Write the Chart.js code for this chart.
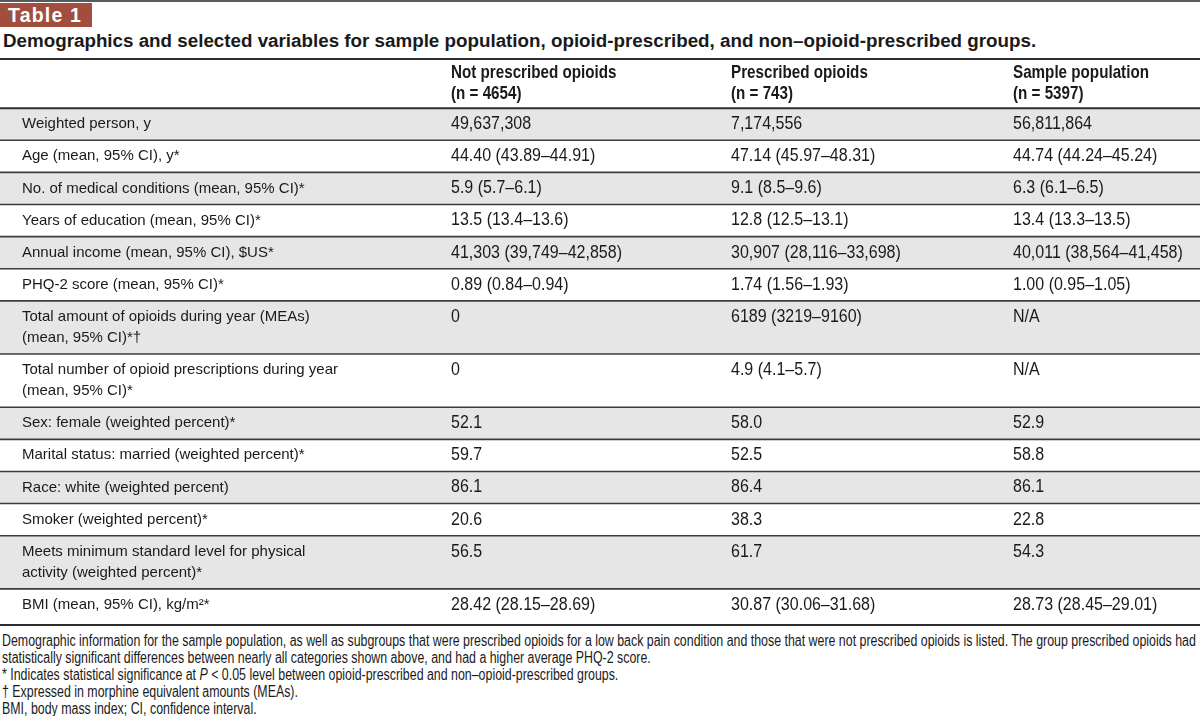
<!DOCTYPE html>
<html>
<head>
<meta charset="utf-8">
<script src="https://cdn.jsdelivr.net/npm/chart.js@4.4.1/dist/chart.umd.min.js"></script>
<style>
  body { margin: 0; background: #fff; }
  #page { position: relative; width: 1200px; height: 716px; overflow: hidden; font-family: "Liberation Sans", Arial, sans-serif; color: #1a1a1a; }
  #topRule { position: absolute; left: 0; top: 0; width: 1200px; height: 2px; background: #5a5a5a; }
  #tag { position: absolute; left: 0; top: 3px; width: 92px; height: 24px; background: #a24e3e; color: #fff;
         font-weight: bold; font-size: 19.5px; letter-spacing: 1.2px; line-height: 25px; padding-left: 8px; box-sizing: border-box; }
  #caption { position: absolute; left: 3px; top: 30px; font-weight: bold; font-size: 18.8px; white-space: nowrap; }
  #tableCanvas { position: absolute; left: 0; top: 57px; }
  #notes { position: absolute; left: 2px; top: 632px; font-size: 16px; line-height: 17px; white-space: nowrap; }
  #notes div { transform-origin: 0 50%; }
</style>
</head>
<body>
<div id="page">
  <div id="topRule"></div>
  <div id="tag">Table 1</div>
  <div id="caption">Demographics and selected variables for sample population, opioid-prescribed, and non–opioid-prescribed groups.</div>
  <canvas id="tableCanvas" width="1200" height="570"></canvas>
  <div id="notes"></div>
</div>

<script>
// ===== DATA =====
const columnHeads = [
  "Not prescribed opioids\n(n = 4654)",
  "Prescribed opioids\n(n = 743)",
  "Sample population\n(n = 5397)"
];

const rowLabels = [
  "Weighted person, y",
  "Age (mean, 95% CI), y*",
  "No. of medical conditions (mean, 95% CI)*",
  "Years of education (mean, 95% CI)*",
  "Annual income (mean, 95% CI), $US*",
  "PHQ-2 score (mean, 95% CI)*",
  "Total amount of opioids during year (MEAs)\n(mean, 95% CI)*†",
  "Total number of opioid prescriptions during year\n(mean, 95% CI)*",
  "Sex: female (weighted percent)*",
  "Marital status: married (weighted percent)*",
  "Race: white (weighted percent)",
  "Smoker (weighted percent)*",
  "Meets minimum standard level for physical\nactivity (weighted percent)*",
  "BMI (mean, 95% CI), kg/m²*"
];

const notPrescribed = [
  "49,637,308", "44.40 (43.89–44.91)", "5.9 (5.7–6.1)", "13.5 (13.4–13.6)",
  "41,303 (39,749–42,858)", "0.89 (0.84–0.94)", "0", "0",
  "52.1", "59.7", "86.1", "20.6", "56.5", "28.42 (28.15–28.69)"
];

const prescribed = [
  "7,174,556", "47.14 (45.97–48.31)", "9.1 (8.5–9.6)", "12.8 (12.5–13.1)",
  "30,907 (28,116–33,698)", "1.74 (1.56–1.93)", "6189 (3219–9160)", "4.9 (4.1–5.7)",
  "58.0", "52.5", "86.4", "38.3", "61.7", "30.87 (30.06–31.68)"
];

const samplePopulation = [
  "56,811,864", "44.74 (44.24–45.24)", "6.3 (6.1–6.5)", "13.4 (13.3–13.5)",
  "40,011 (38,564–41,458)", "1.00 (0.95–1.05)", "N/A", "N/A",
  "52.9", "58.8", "86.1", "22.8", "54.3", "28.73 (28.45–29.01)"
];

const footnotes = [
  "Demographic information for the sample population, as well as subgroups that were prescribed opioids for a low back pain condition and those that were not prescribed opioids is listed. The group prescribed opioids had",
  "statistically significant differences between nearly all categories shown above, and had a higher average PHQ-2 score.",
  "* Indicates statistical significance at <i>P</i> &lt; 0.05 level between opioid-prescribed and non–opioid-prescribed groups.",
  "† Expressed in morphine equivalent amounts (MEAs).",
  "BMI, body mass index; CI, confidence interval."
];

// ===== LAYOUT =====
const FONT = '"Liberation Sans", Arial, sans-serif';
const COL_X = [22, 451, 731, 1013];
const HEAD_H = 49, PAD = 11, LINE = 21, SUP_EXTRA = 4;
const GRAY = "#e6e6e6", RULE = "#3c3c3c", INK = "#1a1a1a";

const valueCols = [notPrescribed, prescribed, samplePopulation];

// row heights come from the number of text lines in each label
const rowHeights = rowLabels.map(l => PAD + LINE * l.split("\n").length + (l.includes("²") ? SUP_EXTRA : 0));
const heights = [HEAD_H].concat(rowHeights);
const total = heights.reduce((a, b) => a + b, 0);

const datasets = heights.map((h, i) => ({
  label: i === 0 ? "header" : rowLabels[i - 1],
  data: [h],
  backgroundColor: i === 0 ? "#ffffff" : (i % 2 === 1 ? GRAY : "#ffffff"),
  borderWidth: 0,
  borderSkipped: false,
  barPercentage: 1,
  categoryPercentage: 1,
  stack: "table"
}));

function squeezed(ctx, str, x, y, font, sx) {
  ctx.save();
  ctx.font = font;
  ctx.translate(x, y);
  ctx.scale(sx, 1);
  ctx.fillText(str, 0, 0);
  ctx.restore();
}

const tablePlugin = {
  id: "tableText",
  afterDatasetsDraw(chart) {
    const ctx = chart.ctx;
    const ys = chart.scales.y;
    const xs = chart.scales.xt;
    const x0 = chart.chartArea.left, x1 = chart.chartArea.right;

    // rules between rows
    let cum = 0;
    const bounds = [0];
    heights.forEach(h => { cum += h; bounds.push(cum); });
    bounds.forEach((b, i) => {
      const py = ys.getPixelForValue(b);
      const heavy = i === 0 || i === 1 || i === bounds.length - 1;
      ctx.save();
      ctx.strokeStyle = heavy ? "#2e2e2e" : RULE;
      ctx.lineWidth = heavy ? 2 : 1.6;
      ctx.beginPath();
      ctx.moveTo(x0, py);
      ctx.lineTo(x1, py);
      ctx.stroke();
      ctx.restore();
    });

    ctx.save();
    ctx.fillStyle = INK;
    ctx.textBaseline = "middle";
    ctx.textAlign = "left";

    // header
    const headTop = ys.getPixelForValue(0);
    columnHeads.forEach((txt, c) => {
      txt.split("\n").forEach((line, k) => {
        squeezed(ctx, line, xs.getPixelForValue(COL_X[c + 1]), headTop + 14 + k * LINE, "bold 19px " + FONT, 0.8);
      });
    });

    // body rows
    rowLabels.forEach((lab, r) => {
      const top = ys.getPixelForValue(bounds[r + 1]);
      lab.split("\n").forEach((line, k) => {
        squeezed(ctx, line, xs.getPixelForValue(COL_X[0]), top + PAD / 2 + LINE / 2 + k * LINE, "15px " + FONT, 1);
      });
      valueCols.forEach((col, c) => {
        squeezed(ctx, col[r], xs.getPixelForValue(COL_X[c + 1]), top + PAD / 2 + LINE / 2, "18px " + FONT, 0.89);
      });
    });
    ctx.restore();
  }
};

new Chart(document.getElementById("tableCanvas"), {
  type: "bar",
  data: { labels: [""], datasets: datasets },
  options: {
    responsive: false,
    animation: false,
    layout: { padding: { top: 2, bottom: 2, left: 0, right: 0 } },
    plugins: { legend: { display: false }, tooltip: { enabled: false } },
    scales: {
      x: { type: "category", display: false, stacked: true },
      xt: { type: "linear", axis: "x", display: false, offset: false, min: 0, max: 1200 },
      y: { type: "linear", display: false, stacked: true, reverse: true, min: 0, max: total }
    }
  },
  plugins: [tablePlugin]
});

// ===== FOOTNOTES =====
const notes = document.getElementById("notes");
const mctx = document.createElement("canvas").getContext("2d");
mctx.font = "16px " + FONT;
const fit = 1194 / mctx.measureText(footnotes[0]).width;
footnotes.forEach(t => {
  const d = document.createElement("div");
  d.innerHTML = t;
  d.style.transform = "scaleX(" + fit.toFixed(4) + ")";
  notes.appendChild(d);
});
</script>
</body>
</html>
